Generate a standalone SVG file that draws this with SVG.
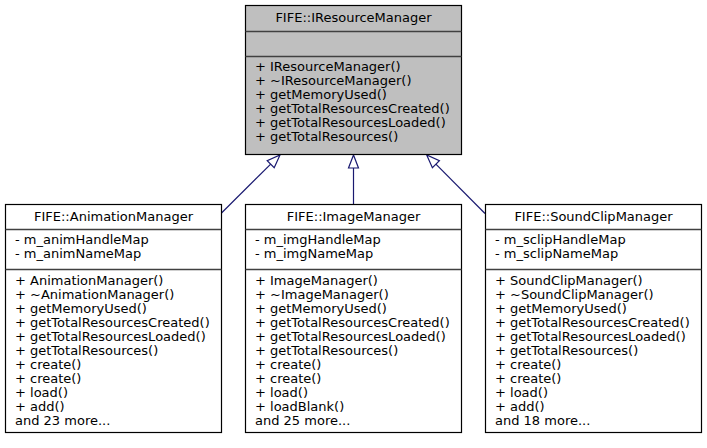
<svg xmlns="http://www.w3.org/2000/svg" width="707" height="448" viewBox="0 0 707 448">
<style>
text{font-family:"DejaVu Sans","Liberation Sans",sans-serif;font-size:13px;fill:#000}
.c{text-anchor:middle}
.box{stroke:#000;stroke-width:1.2}
.sep{stroke:#404040;stroke-width:1.5}
.edge{stroke:#191970;stroke-width:1.2;fill:none}
.head{stroke:#191970;stroke-width:1.2;fill:#fff}
</style>
<rect width="707" height="448" fill="#fff"/>
<g id="connectors">
<path class="edge" d="M353.5,204V168"/>
<polygon class="head" points="353.5,155 348.5,168 358.5,168"/>
<path class="edge" d="M221,213.5L270.7,164.1"/>
<polygon class="head" points="280,155 274.2,167.7 267.2,160.6"/>
<path class="edge" d="M485,213.5L435.9,164.2"/>
<polygon class="head" points="426.7,155 432.4,167.7 439.4,160.6"/>
</g>
<g id="IResourceManager">
<rect class="box" x="245.5" y="5.5" width="216" height="149" fill="#bfbfbf"/>
<line class="sep" x1="245.5" y1="31.5" x2="461.5" y2="31.5"/>
<line class="sep" x1="245.5" y1="56.5" x2="461.5" y2="56.5"/>
<text class="c" x="353.5" y="22">FIFE::IResourceManager</text>
<text x="255" y="71">+ IResourceManager()</text>
<text x="255" y="85">+ ~IResourceManager()</text>
<text x="255" y="99">+ getMemoryUsed()</text>
<text x="255" y="113">+ getTotalResourcesCreated()</text>
<text x="255" y="127">+ getTotalResourcesLoaded()</text>
<text x="255" y="141">+ getTotalResources()</text>
</g>
<g id="AnimationManager">
<rect class="box" x="5.5" y="204.5" width="216" height="228" fill="#fff"/>
<line class="sep" x1="5.5" y1="229.5" x2="221.5" y2="229.5"/>
<line class="sep" x1="5.5" y1="269.5" x2="221.5" y2="269.5"/>
<text class="c" x="113.5" y="221">FIFE::AnimationManager</text>
<text x="15" y="244">- m_animHandleMap</text>
<text x="15" y="258">- m_animNameMap</text>
<text x="15" y="285">+ AnimationManager()</text>
<text x="15" y="299">+ ~AnimationManager()</text>
<text x="15" y="313">+ getMemoryUsed()</text>
<text x="15" y="327">+ getTotalResourcesCreated()</text>
<text x="15" y="341">+ getTotalResourcesLoaded()</text>
<text x="15" y="355">+ getTotalResources()</text>
<text x="15" y="369">+ create()</text>
<text x="15" y="383">+ create()</text>
<text x="15" y="397">+ load()</text>
<text x="15" y="411">+ add()</text>
<text x="15" y="425">and 23 more...</text>
</g>
<g id="ImageManager">
<rect class="box" x="245.5" y="204.5" width="216" height="228" fill="#fff"/>
<line class="sep" x1="245.5" y1="229.5" x2="461.5" y2="229.5"/>
<line class="sep" x1="245.5" y1="269.5" x2="461.5" y2="269.5"/>
<text class="c" x="353.5" y="221">FIFE::ImageManager</text>
<text x="255" y="244">- m_imgHandleMap</text>
<text x="255" y="258">- m_imgNameMap</text>
<text x="255" y="285">+ ImageManager()</text>
<text x="255" y="299">+ ~ImageManager()</text>
<text x="255" y="313">+ getMemoryUsed()</text>
<text x="255" y="327">+ getTotalResourcesCreated()</text>
<text x="255" y="341">+ getTotalResourcesLoaded()</text>
<text x="255" y="355">+ getTotalResources()</text>
<text x="255" y="369">+ create()</text>
<text x="255" y="383">+ create()</text>
<text x="255" y="397">+ load()</text>
<text x="255" y="411">+ loadBlank()</text>
<text x="255" y="425">and 25 more...</text>
</g>
<g id="SoundClipManager">
<rect class="box" x="485.5" y="204.5" width="216" height="228" fill="#fff"/>
<line class="sep" x1="485.5" y1="229.5" x2="701.5" y2="229.5"/>
<line class="sep" x1="485.5" y1="269.5" x2="701.5" y2="269.5"/>
<text class="c" x="593.5" y="221">FIFE::SoundClipManager</text>
<text x="495" y="244">- m_sclipHandleMap</text>
<text x="495" y="258">- m_sclipNameMap</text>
<text x="495" y="285">+ SoundClipManager()</text>
<text x="495" y="299">+ ~SoundClipManager()</text>
<text x="495" y="313">+ getMemoryUsed()</text>
<text x="495" y="327">+ getTotalResourcesCreated()</text>
<text x="495" y="341">+ getTotalResourcesLoaded()</text>
<text x="495" y="355">+ getTotalResources()</text>
<text x="495" y="369">+ create()</text>
<text x="495" y="383">+ create()</text>
<text x="495" y="397">+ load()</text>
<text x="495" y="411">+ add()</text>
<text x="495" y="425">and 18 more...</text>
</g>
</svg>
